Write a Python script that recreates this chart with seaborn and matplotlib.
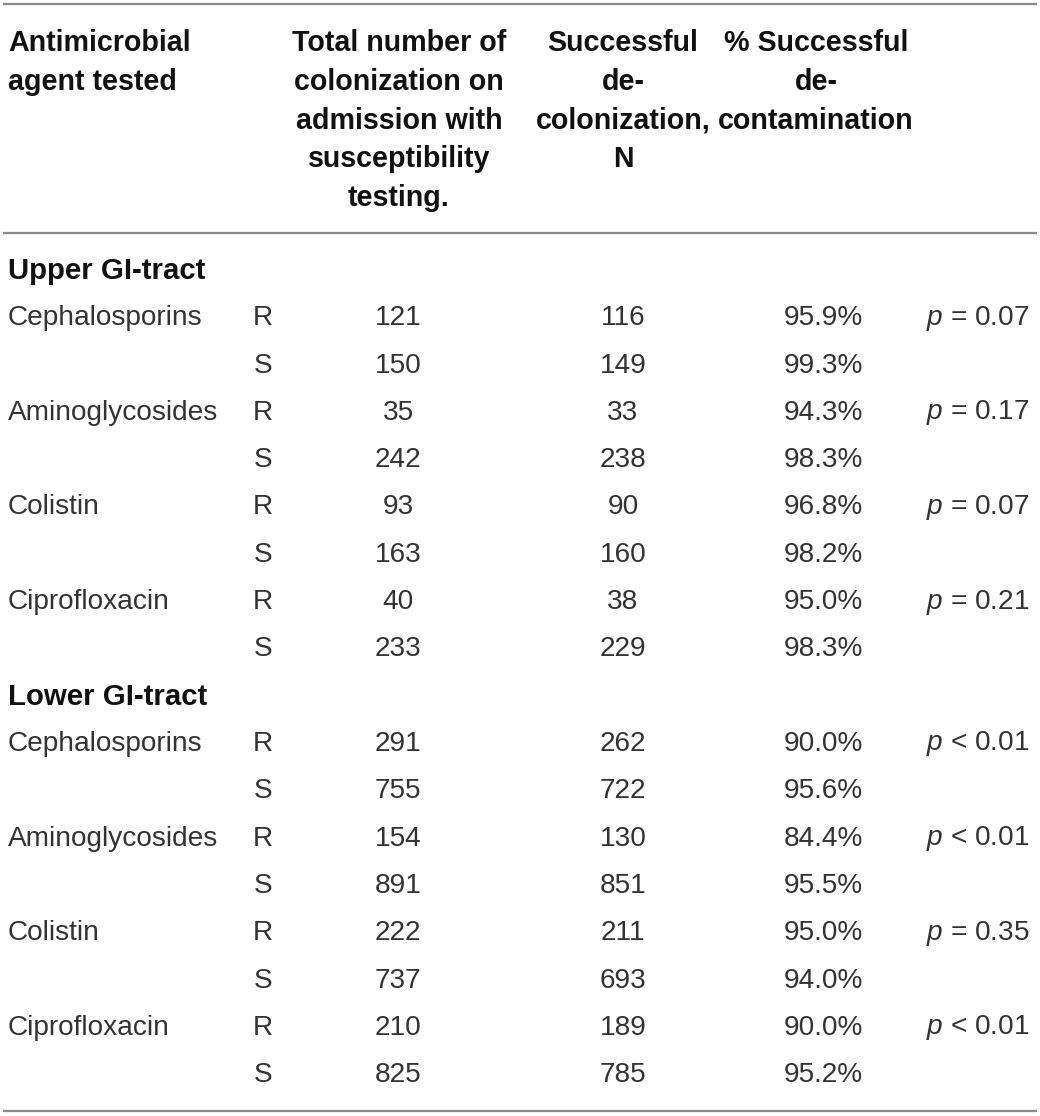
import matplotlib
matplotlib.use("Agg")
import matplotlib.pyplot as plt
import seaborn as sns
import pandas as pd

# ---- data ----
headers = ["Antimicrobial\nagent tested",
           "Total number of\ncolonization on\nadmission with\nsusceptibility\ntesting.",
           "Successful\nde-\ncolonization,\nN",
           "% Successful\nde-\ncontamination"]
groups = ["Upper GI-tract", "Lower GI-tract"]
agents = ["Cephalosporins", "Aminoglycosides", "Colistin", "Ciprofloxacin"]
suscept = ["R", "S"]
total_upper = [121, 150, 35, 242, 93, 163, 40, 233]
success_upper = [116, 149, 33, 238, 90, 160, 38, 229]
pct_upper = ["95.9%", "99.3%", "94.3%", "98.3%", "96.8%", "98.2%", "95.0%", "98.3%"]
pval_upper = ["= 0.07", "= 0.17", "= 0.07", "= 0.21"]
total_lower = [291, 755, 154, 891, 222, 737, 210, 825]
success_lower = [262, 722, 130, 851, 211, 693, 189, 785]
pct_lower = ["90.0%", "95.6%", "84.4%", "95.5%", "95.0%", "94.0%", "90.0%", "95.2%"]
pval_lower = ["< 0.01", "< 0.01", "= 0.35", "< 0.01"]

rows = []
for g, tot, suc, pct, pv in [(groups[0], total_upper, success_upper, pct_upper, pval_upper),
                             (groups[1], total_lower, success_lower, pct_lower, pval_lower)]:
    rows.append(dict(kind="group", label=g, rs="", total="", succ="", pct="", p=""))
    for i, a in enumerate(agents):
        for j, s in enumerate(suscept):
            k = 2 * i + j
            rows.append(dict(kind="row", label=a if j == 0 else "", rs=s,
                             total=str(tot[k]), succ=str(suc[k]), pct=pct[k],
                             p=pv[i] if j == 0 else ""))
df = pd.DataFrame(rows)

# ---- style ----
sns.set_theme(style="white")
plt.rcParams["font.family"] = ["Liberation Sans", "DejaVu Sans"]
plt.rcParams["mathtext.fontset"] = "custom"
plt.rcParams["mathtext.rm"] = "Liberation Sans"
plt.rcParams["mathtext.it"] = "Liberation Sans:italic"

W, H = 1040, 1116
fig = plt.figure(figsize=(W / 100, H / 100), dpi=100)
ax = fig.add_axes([0, 0, 1, 1])
ax.set_xlim(0, W)
ax.set_ylim(H, 0)
ax.axis("off")

fs = 20.2
hfs = 20.6
gfs = 21.2
body = "#333333"
line_c = "#8a8a8a"

# horizontal rules
for y in [4, 233, 1111]:
    ax.plot([3, 1037], [y, y], color=line_c, lw=1.6, solid_capstyle="butt")

# header
hy = 43
hsp = 38.8
col_hx = [8, 399, 623, 816]
for c, (h, x) in enumerate(zip(headers, col_hx)):
    for li, t in enumerate(h.split("\n")):
        ax.text(x, hy + li * hsp, t, ha="left" if c == 0 else "center", va="center",
                fontsize=hfs, fontweight="bold", color="#111111")

# body
y0 = 271
dy = 47.3
for r, row in df.iterrows():
    y = y0 + r * dy
    if row["kind"] == "group":
        ax.text(8, y, row["label"], ha="left", va="center", fontsize=gfs,
                fontweight="bold", color="#111111")
        continue
    if row["label"]:
        ax.text(8, y, row["label"], ha="left", va="center", fontsize=fs, color=body)
    ax.text(263, y, row["rs"], ha="center", va="center", fontsize=fs, color=body)
    ax.text(398, y, row["total"], ha="center", va="center", fontsize=fs, color=body)
    ax.text(623, y, row["succ"], ha="center", va="center", fontsize=fs, color=body)
    ax.text(863, y, row["pct"], ha="right", va="center", fontsize=fs, color=body)
    if row["p"]:
        ax.text(1029, y, r"$p$ " + row["p"], ha="right", va="center", fontsize=fs, color=body)

fig.savefig("out.png", dpi=100)
